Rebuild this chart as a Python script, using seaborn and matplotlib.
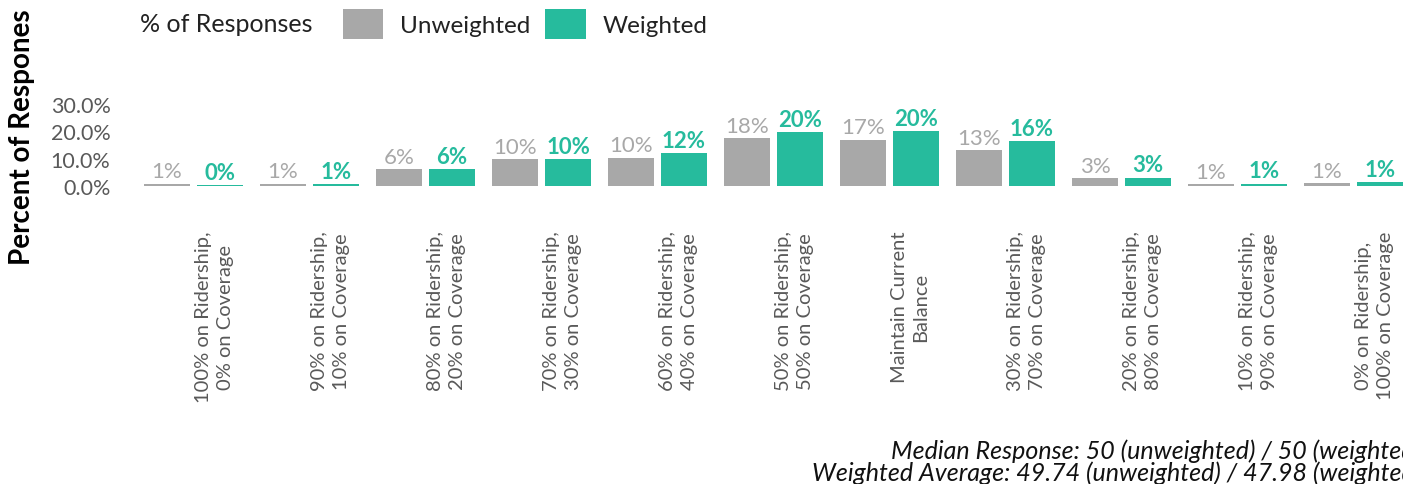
import matplotlib
matplotlib.use("Agg")
import matplotlib.pyplot as plt
import matplotlib.transforms as mtransforms
import pandas as pd
import seaborn as sns
from matplotlib.patches import Patch

# Response options (x-axis categories)
categories = [
    "100% on Ridership,\n0% on Coverage",
    "90% on Ridership,\n10% on Coverage",
    "80% on Ridership,\n20% on Coverage",
    "70% on Ridership,\n30% on Coverage",
    "60% on Ridership,\n40% on Coverage",
    "50% on Ridership,\n50% on Coverage",
    "Maintain Current\nBalance",
    "30% on Ridership,\n70% on Coverage",
    "20% on Ridership,\n80% on Coverage",
    "10% on Ridership,\n90% on Coverage",
    "0% on Ridership,\n100% on Coverage",
]
series_names = ["Unweighted", "Weighted"]
unweighted = [0.9, 0.9, 6.2, 9.9, 10.4, 17.6, 17.0, 13.1, 2.9, 0.6, 1.1]
weighted = [0.4, 0.6, 6.3, 9.7, 12.2, 19.6, 20.0, 16.3, 3.1, 0.9, 1.4]
y_ticks = [0, 10, 20, 30]
y_tick_labels = ["0.0%", "10.0%", "20.0%", "30.0%"]
footer_lines = [
    "Median Response: 50 (unweighted) / 50 (weighted)",
    "Weighted Average: 49.74 (unweighted) / 47.98 (weighted)",
]

GRAY = "#a8a8a8"
TEAL = "#26bb9d"
palette = {series_names[0]: GRAY, series_names[1]: TEAL}

df = pd.DataFrame({
    "Option": categories * 2,
    "Series": [series_names[0]] * len(categories) + [series_names[1]] * len(categories),
    "Percent": unweighted + weighted,
})

sns.set_theme(style="white")
plt.rcParams["font.family"] = ["Lato", "DejaVu Sans"]

W, H = 1403, 485
fig = plt.figure(figsize=(W / 100, H / 100), dpi=100)
ax = fig.add_axes([135.5 / W, (H - 187) / H, 1276 / W, 82 / H])

sns.barplot(data=df, x="Option", y="Percent", hue="Series", order=categories,
            hue_order=series_names, palette=palette, width=0.914, gap=0.114,
            saturation=1, legend=False, ax=ax, edgecolor="none", err_kws={"linewidth": 0})

# Value labels above each bar
label_styles = [(GRAY, "normal"), (TEAL, "bold")]
for container, vals, (col, wt) in zip(ax.containers, [unweighted, weighted], label_styles):
    ax.bar_label(container, labels=[f"{v:.0f}%" for v in vals], padding=1.5,
                 color=col, fontsize=16, fontweight=wt)

ax.set_xlim(-0.5, len(categories) - 0.5)
ax.set_ylim(0, 30)
ax.set_yticks(y_ticks)
ax.set_yticklabels(y_tick_labels, color="#595959", fontsize=15.5)
ax.set_xlabel("")
ax.set_ylabel("")
for s in ax.spines.values():
    s.set_visible(False)
ax.tick_params(axis="y", length=0, pad=18)
ax.tick_params(axis="x", length=0, pad=32)
shift = mtransforms.ScaledTranslation(0.21, 0, fig.dpi_scale_trans)
for lab in ax.get_xticklabels():
    lab.set_rotation(90)
    lab.set_ha("center")
    lab.set_va("top")
    lab.set_multialignment("center")
    lab.set_color("#595959")
    lab.set_fontsize(14.5)
    lab.set_linespacing(1.3)
    lab.set_transform(lab.get_transform() + shift)

fig.text(22 / W, 1 - 137 / H, "Percent of Respones", rotation=90, ha="center",
         va="center", fontsize=20, fontweight="bold", color="black")

# Legend
fig.text(140 / W, 1 - 25 / H, "% of Responses", ha="left", va="center",
         fontsize=18, color="#222222")
handles = [Patch(facecolor=GRAY, edgecolor="none"), Patch(facecolor=TEAL, edgecolor="none")]
fig.legend(handles, series_names, ncol=2, loc="center left",
           bbox_to_anchor=(343 / W, 1 - 25 / H), frameon=False, fontsize=17.5,
           handlelength=1.65, handleheight=1.48, handletextpad=0.7,
           columnspacing=0.62, borderpad=0, borderaxespad=0,
           labelcolor="#222222")

# Footer notes
for i, line in enumerate(footer_lines):
    fig.text(1421 / W, 1 - (451 + 22 * i) / H, line, ha="right", va="center",
             fontsize=18, fontstyle="italic", color="#111111")

fig.savefig("out.png", dpi=100)
